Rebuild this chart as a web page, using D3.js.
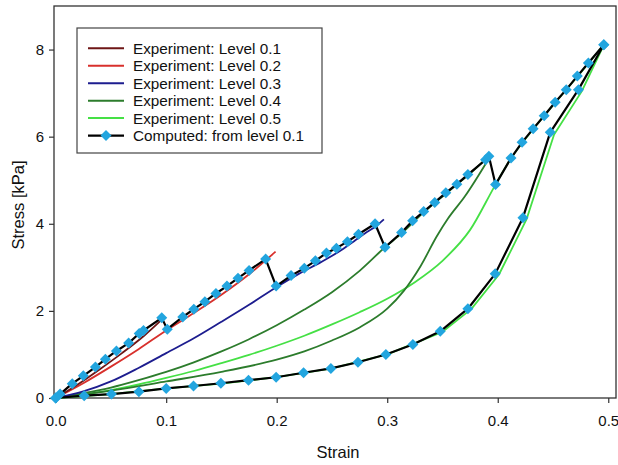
<!DOCTYPE html>
<html>
<head>
<meta charset="utf-8">
<script src="https://cdn.jsdelivr.net/npm/d3@7"></script>
<style>
  html, body { margin: 0; padding: 0; background: #fff; }
  svg { display: block; font-family: "Liberation Sans", Arial, sans-serif; }
</style>
</head>
<body>
<svg id="chart" width="618" height="465"></svg>
<script>
// ---- Data: strain [-] and stress [kPa] ----
const xTicks = [0, 0.1, 0.2, 0.3, 0.4, 0.5];
const xTickLabels = ["0.0", "0.1", "0.2", "0.3", "0.4", "0.5"];
const yTicks = [0, 2, 4, 6, 8];
const yTickLabels = ["0", "2", "4", "6", "8"];

const seriesNames = [
  "Experiment: Level 0.1",
  "Experiment: Level 0.2",
  "Experiment: Level 0.3",
  "Experiment: Level 0.4",
  "Experiment: Level 0.5",
  "Computed: from level 0.1"
];
const seriesColors = ["#6e1616", "#d8302c", "#1d1d8f", "#2c7c2c", "#45e045", "#000000"];

// Experiment level 0.1
const lvl1Strain = [0, 0.02, 0.04, 0.06, 0.08, 0.096];
const lvl1Stress = [0, 0.31, 0.66, 1.03, 1.43, 1.80];

// Experiment level 0.2
const lvl2Strain = [0, 0.025, 0.05, 0.075, 0.1, 0.125, 0.15, 0.175, 0.199];
const lvl2Stress = [0, 0.34, 0.72, 1.12, 1.55, 1.95, 2.37, 2.84, 3.36];

// Experiment level 0.3
const lvl3Strain = [0, 0.025, 0.05, 0.075, 0.1, 0.125, 0.15, 0.175, 0.2, 0.22, 0.24, 0.26, 0.27, 0.28, 0.29, 0.297];
const lvl3Stress = [0, 0.15, 0.38, 0.69, 1.03, 1.37, 1.75, 2.14, 2.55, 2.85, 3.12, 3.42, 3.60, 3.78, 3.95, 4.10];

// Experiment level 0.4: loading branch, then unloading branch
const lvl4LoadStrain = [0, 0.025, 0.05, 0.075, 0.1, 0.125, 0.15, 0.175, 0.2, 0.225, 0.25, 0.275, 0.298, 0.313, 0.333, 0.353, 0.373, 0.392];
const lvl4LoadStress = [0, 0.11, 0.24, 0.41, 0.60, 0.82, 1.07, 1.35, 1.67, 2.03, 2.43, 2.92, 3.46, 3.78, 4.26, 4.69, 5.11, 5.55];
const lvl4UnloadStrain = [0.392, 0.37, 0.355, 0.345, 0.33, 0.315, 0.3, 0.275, 0.25, 0.225, 0.2, 0.15, 0.1, 0.05, 0];
const lvl4UnloadStress = [5.5, 4.62, 4.12, 3.72, 3.02, 2.46, 2.05, 1.62, 1.32, 1.07, 0.88, 0.60, 0.38, 0.17, 0];

// Experiment level 0.5: loading branch, then unloading branch
const lvl5LoadStrain = [0, 0.025, 0.05, 0.075, 0.1, 0.125, 0.15, 0.175, 0.2, 0.225, 0.25, 0.275, 0.3, 0.325, 0.35, 0.375, 0.398, 0.412, 0.432, 0.452, 0.472, 0.496];
const lvl5LoadStress = [0, 0.08, 0.18, 0.31, 0.46, 0.62, 0.80, 0.99, 1.20, 1.43, 1.69, 1.97, 2.28, 2.66, 3.15, 3.86, 4.90, 5.50, 6.17, 6.78, 7.38, 8.11];
const lvl5UnloadStrain = [0.496, 0.476, 0.451, 0.426, 0.401, 0.376, 0.35, 0.3, 0.25, 0.2, 0.15, 0.1, 0.05, 0];
const lvl5UnloadStress = [8.11, 7.04, 6.05, 4.10, 2.83, 2.04, 1.52, 1.0, 0.68, 0.48, 0.33, 0.22, 0.09, 0];

// Computed response: stepped loading path, then unloading path
const compLoadStrain = [
  0, 0.004, 0.015, 0.025, 0.036, 0.045, 0.055, 0.066, 0.0756, 0.0795, 0.096,
  0.101, 0.115, 0.125, 0.135, 0.145, 0.155, 0.165, 0.175, 0.19,
  0.1995, 0.213, 0.225, 0.235, 0.245, 0.254, 0.264, 0.274, 0.289,
  0.298, 0.313, 0.323, 0.333, 0.343, 0.353, 0.363, 0.373, 0.389, 0.392,
  0.398, 0.412, 0.422, 0.432, 0.442, 0.452, 0.462, 0.472, 0.482, 0.496
];
const compLoadStress = [
  0, 0.09, 0.33, 0.51, 0.71, 0.89, 1.08, 1.26, 1.48, 1.55, 1.84,
  1.58, 1.86, 2.04, 2.21, 2.40, 2.57, 2.75, 2.93, 3.19,
  2.57, 2.81, 2.98, 3.15, 3.33, 3.44, 3.59, 3.76, 4.0,
  3.46, 3.80, 4.07, 4.28, 4.49, 4.71, 4.91, 5.13, 5.47, 5.55,
  4.90, 5.51, 5.87, 6.18, 6.48, 6.79, 7.08, 7.39, 7.69, 8.11
];
const compUnloadStrain = [0.496, 0.473, 0.4475, 0.4228, 0.3977, 0.373, 0.348, 0.3232, 0.2988, 0.2735, 0.249, 0.2243, 0.1995, 0.1745, 0.1495, 0.1247, 0.1, 0.0753, 0.0505, 0.0258, 0];
const compUnloadStress = [8.11, 7.08, 6.10, 4.14, 2.85, 2.05, 1.53, 1.23, 1.0, 0.82, 0.68, 0.58, 0.476, 0.41, 0.338, 0.276, 0.22, 0.145, 0.09, 0.053, 0];

// ---- Layout ----
const svg = d3.select("#chart");
const plot = { left: 54, right: 616, top: 6, bottom: 398 };

const x = d3.scaleLinear().domain([-0.0015, 0.507]).range([plot.left, plot.right]);
const y = d3.scaleLinear().domain([0, 9]).range([plot.bottom, plot.top]);

const zip = (xs, ys) => xs.map((v, i) => [v, ys[i]]);
const line = d3.line().x(d => x(d[0])).y(d => y(d[1]));
const smooth = d3.line().curve(d3.curveMonotoneX).x(d => x(d[0])).y(d => y(d[1]));

// Plot frame
svg.append("rect")
  .attr("x", plot.left).attr("y", plot.top)
  .attr("width", plot.right - plot.left).attr("height", plot.bottom - plot.top)
  .attr("fill", "none").attr("stroke", "#333").attr("stroke-width", 1.3);

// Axes
const xAxis = d3.axisBottom(x)
  .tickValues(xTicks)
  .tickFormat((d, i) => xTickLabels[i])
  .tickSize(5).tickSizeOuter(0).tickPadding(12);
const gx = svg.append("g").attr("transform", `translate(0,${plot.bottom})`).call(xAxis);

const yAxis = d3.axisLeft(y)
  .tickValues(yTicks)
  .tickFormat((d, i) => yTickLabels[i])
  .tickSize(5).tickSizeOuter(0).tickPadding(5);
const gy = svg.append("g").attr("transform", `translate(${plot.left},0)`).call(yAxis);

[gx, gy].forEach(g => {
  g.select(".domain").remove();
  g.selectAll(".tick line").attr("stroke", "#333").attr("stroke-width", 1.2);
  g.selectAll(".tick text")
    .attr("fill", "#111")
    .style("font-family", '"Liberation Sans", Arial, sans-serif')
    .style("font-size", "15px");
});

// Axis titles
svg.append("text")
  .attr("x", (plot.left + plot.right) / 2 + 3).attr("y", 458)
  .attr("text-anchor", "middle")
  .style("font-size", "16.5px").attr("fill", "#111")
  .text("Strain");
svg.append("text")
  .attr("transform", `translate(24,205) rotate(-90)`)
  .attr("text-anchor", "middle")
  .style("font-size", "16.5px").attr("fill", "#111")
  .text("Stress [kPa]");

// Experimental curves (unloading of level 0.5 runs straight between samples)
const expPaths = [
  { pts: zip(lvl5LoadStrain, lvl5LoadStress), color: seriesColors[4], gen: smooth },
  { pts: zip(lvl5UnloadStrain, lvl5UnloadStress), color: seriesColors[4], gen: line },
  { pts: zip(lvl4LoadStrain, lvl4LoadStress), color: seriesColors[3], gen: smooth },
  { pts: zip(lvl4UnloadStrain, lvl4UnloadStress), color: seriesColors[3], gen: smooth },
  { pts: zip(lvl3Strain, lvl3Stress), color: seriesColors[2], gen: smooth },
  { pts: zip(lvl2Strain, lvl2Stress), color: seriesColors[1], gen: smooth },
  { pts: zip(lvl1Strain, lvl1Stress), color: seriesColors[0], gen: smooth }
];
svg.append("g").selectAll("path").data(expPaths).join("path")
  .attr("d", d => d.gen(d.pts.slice().sort((a, b) => a[0] - b[0])))
  .attr("fill", "none")
  .attr("stroke", d => d.color)
  .attr("stroke-width", 1.8)
  .attr("stroke-linejoin", "round");

// Computed curve with diamond markers
const compLoad = zip(compLoadStrain, compLoadStress);
const compUnload = zip(compUnloadStrain, compUnloadStress);
const gComp = svg.append("g");
[compLoad, compUnload].forEach(pts => {
  gComp.append("path")
    .attr("d", line(pts))
    .attr("fill", "none")
    .attr("stroke", "#000")
    .attr("stroke-width", 2.2)
    .attr("stroke-linejoin", "round");
});
const diamond = "M0,-5.5L5.5,0L0,5.5L-5.5,0Z";
const markerColor = "#22a5df";
gComp.selectAll("path.mk").data(compLoad.concat(compUnload)).join("path")
  .attr("class", "mk")
  .attr("d", diamond)
  .attr("transform", d => `translate(${x(d[0])},${y(d[1])})`)
  .attr("fill", markerColor);

// Legend
const legend = svg.append("g");
legend.append("rect")
  .attr("x", 77).attr("y", 28).attr("width", 245).attr("height", 125)
  .attr("fill", "#fff").attr("stroke", "#444").attr("stroke-width", 1.2);
const rowY = i => 48.3 + i * 17.45;
seriesNames.forEach((name, i) => {
  legend.append("line")
    .attr("x1", 88).attr("x2", 124).attr("y1", rowY(i)).attr("y2", rowY(i))
    .attr("stroke", seriesColors[i]).attr("stroke-width", i === 5 ? 2.2 : 2);
  if (i === 5) {
    legend.append("path").attr("d", diamond)
      .attr("transform", `translate(106,${rowY(i)})`)
      .attr("fill", markerColor);
  }
  legend.append("text")
    .attr("x", 133).attr("y", rowY(i)).attr("dy", "0.36em")
    .style("font-size", "15.3px").attr("fill", "#111")
    .text(name);
});
</script>
</body>
</html>
